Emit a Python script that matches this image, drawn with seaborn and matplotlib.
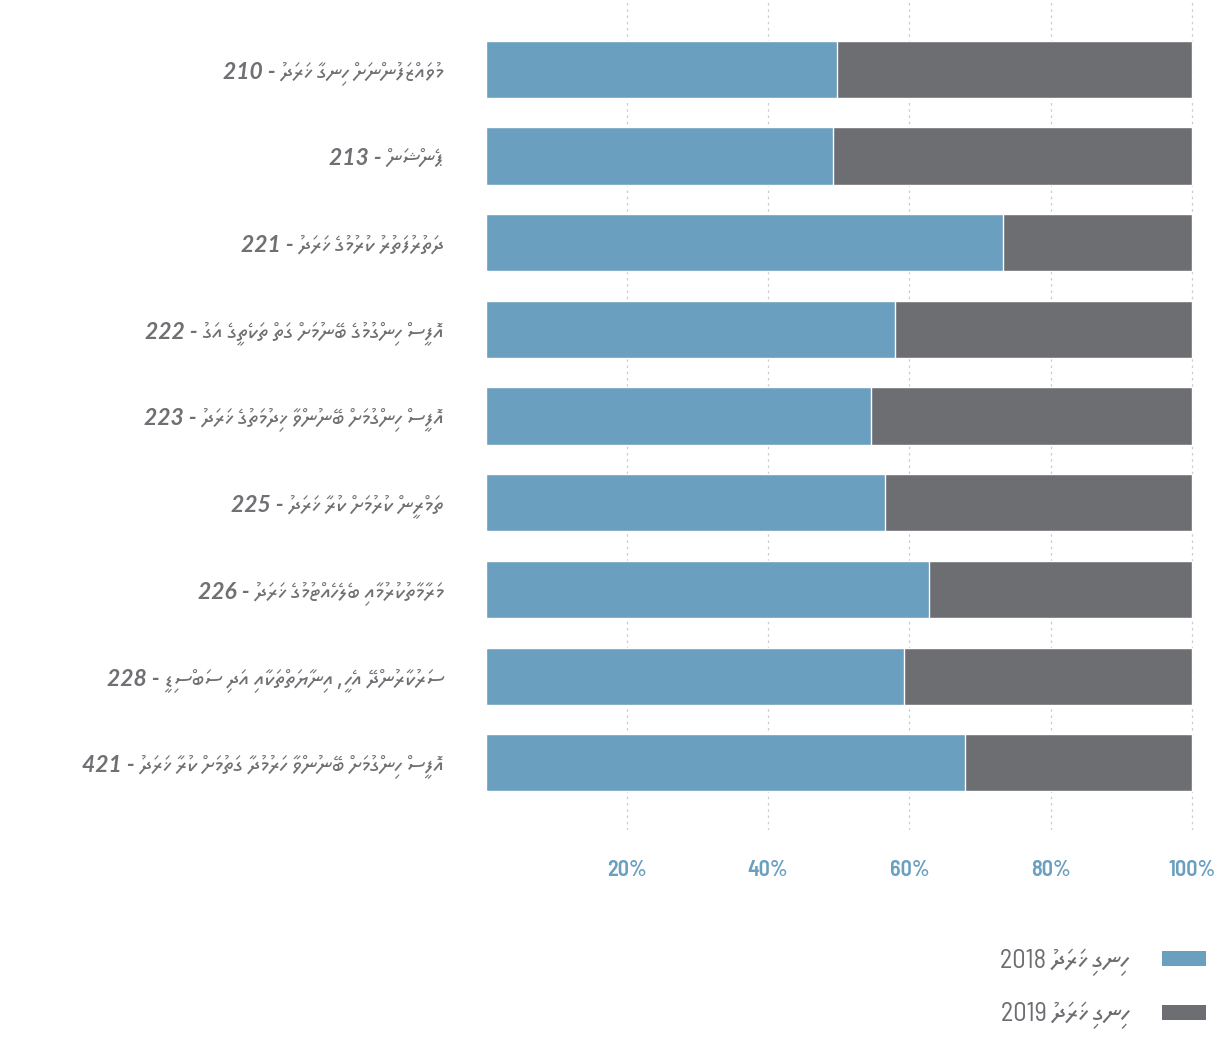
import numpy as np
import pandas as pd
import matplotlib
matplotlib.use('Agg')
import matplotlib.pyplot as plt
import seaborn as sns
from matplotlib.patches import Patch

categories = [
    'މުވައްޒަފުންނަށް ހިނގާ ޚަރަދު - 210',
    'ޕެންޝަން - 213',
    'ދަތުރުފަތުރު ކުރުމުގެ ޚަރަދު - 221',
    'އޮފީސް ހިންގުމުގެ ބޭނުމަށް ގަތް ތަކެތީގެ އަގު - 222',
    'އޮފީސް ހިންގުމަށް ބޭނުންވާ ޚިދުމަތުގެ ޚަރަދު - 223',
    'ތަމްރީން ކުރުމަށް ކުރާ ޚަރަދު - 225',
    'މަރާމާތުކުރުމާއި ބެލެހެއްޓުމުގެ ޚަރަދު - 226',
    'ސަރުކާރުންދޭ އެހީ، އިނާޔަތްތަކާއި އަދި ސަބްސިޑީ - 228',
    'އޮފީސް ހިންގުމަށް ބޭނުންވާ ހަރުމުދާ ގަތުމަށް ކުރާ ޚަރަދު - 421',
]
share_2018 = [49.8, 49.2, 73.3, 57.9, 54.5, 56.5, 62.7, 59.3, 67.9]
share_2019 = [50.2, 50.8, 26.7, 42.1, 45.5, 43.5, 37.3, 40.7, 32.1]
legend_labels = ['ހިނގި ޚަރަދު 2018', 'ހިނގި ޚަރަދު 2019']
ticks = [20, 40, 60, 80, 100]

blue = '#6a9fbf'
grey = '#6d6e72'


def visual(s):
    # matplotlib has no RTL layout: put the Thaana words in visual (left to right) order,
    # numbers stay as they are
    words = s.split(' ')
    thaana = [w for w in words if not any(c.isdigit() for c in w) and w != '-']
    rest = [w for w in words if w not in thaana]
    rtl = ' '.join(thaana)[::-1]
    if rest and rest[0] == '-':
        return ' '.join(rest[::-1]) + ' ' + rtl
    return ' '.join(rest) + ' ' + rtl


df = pd.DataFrame({'cat': [visual(c) for c in categories], 'y2018': share_2018, 'y2019': share_2019})
df['total'] = df['y2018'] + df['y2019']

sns.set_style('white')
plt.rcParams['font.family'] = ['DejaVu Sans', 'Noto Sans Thaana']

fig = plt.figure(figsize=(12.23, 10.42), dpi=100)
ax = fig.add_axes([0.397, 0.203, 0.58, 0.797])

sns.barplot(data=df, x='total', y='cat', color=grey, orient='h', width=0.66, saturation=1, ax=ax, zorder=3)
sns.barplot(data=df, x='y2018', y='cat', color=blue, orient='h', width=0.66, saturation=1, ax=ax, zorder=3)

ax.set_xlim(0, 100.4)
ax.set_xticks(ticks)
ax.set_xticklabels([f'{t}%' for t in ticks], color=blue, fontsize=16, fontweight='semibold',
                   family=['Barlow Semi Condensed', 'DejaVu Sans'])
ax.tick_params(axis='x', length=0, pad=21)
ax.tick_params(axis='y', length=0, pad=30)
for lbl in ax.get_yticklabels():
    lbl.set_color('#707074')
    lbl.set_fontsize(16.5)
    lbl.set_fontstyle('italic')
    lbl.set_fontweight('bold')
    lbl.set_family(['Lato', 'Noto Sans Thaana', 'DejaVu Sans'])
ax.set_xlabel('')
ax.set_ylabel('')
ax.xaxis.grid(True, linestyle=(0, (2, 3)), color='#cccccc', linewidth=0.9, zorder=0)
ax.yaxis.grid(False)
ax.set_ylim(8.78, -0.80)
sns.despine(ax=ax, left=True, bottom=True)

handles = [Patch(facecolor=blue, edgecolor='none'), Patch(facecolor=grey, edgecolor='none')]
fig.legend(handles, [visual(l) for l in legend_labels], loc='lower right',
           bbox_to_anchor=(1206 / 1223, 0.012), borderaxespad=0, borderpad=0,
           frameon=False, markerfirst=False, handlelength=1.65, handleheight=0.5,
           handletextpad=1.27, labelspacing=1.0,
           prop={'size': 19, 'family': ['Barlow Semi Condensed', 'Noto Sans Thaana', 'DejaVu Sans']},
           labelcolor=grey)

fig.savefig('out.png', dpi=100)
